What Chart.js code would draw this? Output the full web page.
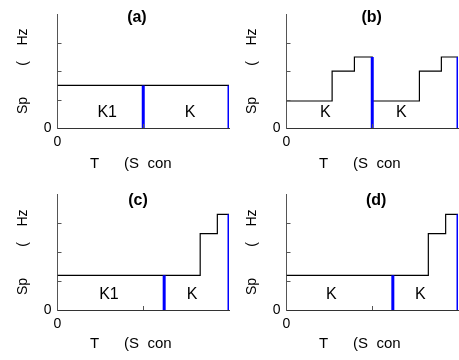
<!DOCTYPE html>
<html lang="en">
<head>
<meta charset="UTF-8">
<title>Speed profiles</title>
<script src="https://cdn.jsdelivr.net/npm/chart.js"></script>
<style>
  body { margin: 0; background: #fff; }
  #wrap { position: relative; width: 459px; height: 360px; overflow: hidden; }
  .panel { position: absolute; width: 230px; height: 180px; }
</style>
</head>
<body>
<div id="wrap">
  <div class="panel" style="left:0;top:0"><canvas id="chartA" width="230" height="180"></canvas></div>
  <div class="panel" style="left:229px;top:0"><canvas id="chartB" width="230" height="180"></canvas></div>
  <div class="panel" style="left:0;top:180px"><canvas id="chartC" width="230" height="180"></canvas></div>
  <div class="panel" style="left:229px;top:180px"><canvas id="chartD" width="230" height="180"></canvas></div>
</div>
<script>
// speed profiles (x = fraction of the time axis, y = speed in Hz), drawn as steps
const stepA_x = [0, 1];
const stepA_y = [1.5, 1.5];
const stepB_x = [0, 0.266, 0.396, 0.5, 0.775, 0.903, 1];
const stepB_y = [0.95, 2, 2.5, 0.95, 2, 2.5, 2.5];
const stepC_x = [0, 0.832, 0.932, 1];
const stepC_y = [1.2, 2.64, 3.31, 3.31];
const stepD_x = [0, 0.827, 0.928, 1];
const stepD_y = [1.2, 2.64, 3.31, 3.31];

// blue boundary lines: where they stand and how high they reach
const splitA_x = [0.5, 1];
const splitA_y = [1.5, 1.5];
const splitB_x = [0.5, 1];
const splitB_y = [2.5, 2.5];
const splitC_x = [0.622, 1];
const splitC_y = [1.2, 3.31];
const splitD_x = [0.62, 1];
const splitD_y = [1.2, 3.31];

// region names
const namesA = ['K1', 'K'];
const namesB = ['K', 'K'];
const namesC = ['K1', 'K'];
const namesD = ['K', 'K'];
const namesA_x = [0.29, 0.773];
const namesB_x = [0.227, 0.67];
const namesC_x = [0.3, 0.785];
const namesD_x = [0.262, 0.78];

const yTicks = [0, 1, 2, 3, 4];
const xTicks = [0, 0.5, 1];

const FONT = "'Liberation Sans', Arial, Helvetica, sans-serif";

// inward tick marks, the region names and the panel letter
const decorations = {
  id: 'decorations',
  afterDraw(chart) {
    const ctx = chart.ctx;
    const area = chart.chartArea;
    const xs = chart.scales.x, ys = chart.scales.y;
    const cfg = chart.options.plugins.decorations;
    ctx.save();
    ctx.strokeStyle = '#555';
    ctx.lineWidth = 1;
    ctx.beginPath();
    yTicks.slice(1, -1).forEach(v => {
      const py = Math.round(ys.getPixelForValue(v)) + 0.5;
      ctx.moveTo(area.left, py);
      ctx.lineTo(area.left + 4, py);
    });
    xTicks.slice(1, -1).forEach(v => {
      const px = Math.round(xs.getPixelForValue(v)) + 0.5;
      ctx.moveTo(px, area.bottom);
      ctx.lineTo(px, area.bottom - 4);
    });
    ctx.stroke();

    ctx.fillStyle = '#000';
    ctx.textAlign = 'center';
    ctx.textBaseline = 'middle';
    ctx.font = '16px ' + FONT;
    cfg.names.forEach((n, i) => {
      ctx.fillText(n, xs.getPixelForValue(cfg.namesX[i]), ys.getPixelForValue(0.55));
    });
    ctx.font = 'bold 16px ' + FONT;
    ctx.fillText(cfg.letter, xs.getPixelForValue(cfg.letterX), area.top + cfg.letterDy);
    ctx.restore();
  }
};

function makePanel(id, stepX, stepY, splitX, splitY, names, namesX, letter, letterX, letterDy, top) {
  const datasets = [{
    data: stepX.map((x, i) => ({ x: x, y: stepY[i] })),
    stepped: 'before',
    borderColor: '#000',
    borderWidth: 1.2,
    pointRadius: 0,
    order: 1
  }];
  splitX.forEach((x, i) => {
    datasets.push({
      data: [{ x: x, y: 0 }, { x: x, y: splitY[i] }],
      borderColor: '#0000ff',
      borderWidth: 3,
      pointRadius: 0,
      order: 0
    });
  });

  new Chart(document.getElementById(id), {
    type: 'line',
    data: { datasets: datasets },
    options: {
      responsive: false,
      animation: false,
      layout: { padding: { top: top, right: 1, left: 0, bottom: 0 } },
      plugins: {
        legend: { display: false },
        tooltip: { enabled: false },
        decorations: { names: names, namesX: namesX, letter: letter, letterX: letterX, letterDy: letterDy }
      },
      scales: {
        x: {
          type: 'linear',
          min: 0,
          max: 1,
          afterBuildTicks: s => { s.ticks = xTicks.map(v => ({ value: v })); },
          afterFit: s => { s.height = 180 - top - 118; },
          grid: { display: true, drawOnChartArea: false, drawTicks: false },
          border: { display: true, color: '#333', width: 1 },
          ticks: {
            padding: 6,
            color: '#000',
            font: { family: FONT, size: 14 },
            maxRotation: 0,
            callback: v => (v === 0 ? '0' : null)
          },
          title: {
            display: true,
            text: 'T      (S  con      ',
            color: '#000',
            font: { family: FONT, size: 15 },
            padding: { top: 0, bottom: 7 }
          }
        },
        y: {
          min: 0,
          max: 4,
          afterBuildTicks: s => { s.ticks = yTicks.map(v => ({ value: v })); },
          afterFit: s => { s.width = 57.5; },
          grid: { display: true, drawOnChartArea: false, drawTicks: false },
          border: { display: true, color: '#555', width: 1 },
          ticks: {
            padding: 6,
            color: '#000',
            font: { family: FONT, size: 14 },
            callback: v => (v === 0 ? '0' : null)
          },
          title: {
            display: true,
            text: 'Sp        (    Hz',
            color: '#000',
            font: { family: FONT, size: 14 },
            padding: { top: 15, bottom: 0 }
          }
        }
      }
    },
    plugins: [decorations]
  });
}

makePanel('chartA', stepA_x, stepA_y, splitA_x, splitA_y, namesA, namesA_x, '(a)', 0.463, 3, 10);
makePanel('chartB', stepB_x, stepB_y, splitB_x, splitB_y, namesB, namesB_x, '(b)', 0.497, 3, 10);
makePanel('chartC', stepC_x, stepC_y, splitC_x, splitC_y, namesC, namesC_x, '(c)', 0.469, 6, 12);
makePanel('chartD', stepD_x, stepD_y, splitD_x, splitD_y, namesD, namesD_x, '(d)', 0.523, 6, 12);
</script>
</body>
</html>
